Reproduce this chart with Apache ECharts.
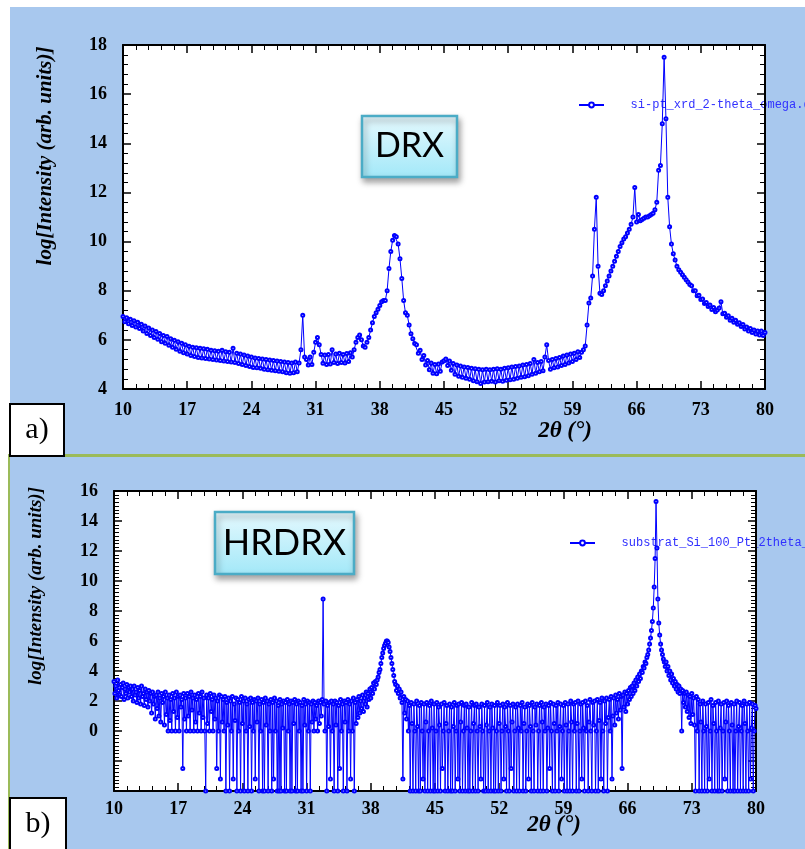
<!DOCTYPE html>
<html>
<head>
<meta charset="utf-8">
<title>DRX / HRDRX</title>
<script src="https://cdn.jsdelivr.net/npm/echarts@6.0.0/dist/echarts.min.js"></script>
<style>
  html, body { margin: 0; padding: 0; background: #fff; }
  #wrap { position: relative; width: 805px; height: 849px; overflow: hidden; }
  .panel { position: absolute; background: #a8c8ee; }
  .green { position: absolute; background: #9bbb59; }
  #chart { position: absolute; left: 0; top: 0; width: 805px; height: 849px; }
</style>
</head>
<body>
<div id="wrap">
  <div class="panel" style="left:10px;top:7px;width:795px;height:447px"></div>
  <div class="panel" style="left:10px;top:457px;width:795px;height:392px"></div>
  <div class="green" style="left:8px;top:454px;width:797px;height:3px"></div>
  <div class="green" style="left:8px;top:454px;width:2px;height:395px"></div>
  <div id="chart"></div>
</div>
<script>
// 2theta axis (degrees)
const angleMin = 10
const angleMax = 80
const angleTick = 7

// scan grids
const drxStart = 10, drxStep = 0.2
const hrdrxStart = 10, hrdrxStep = 0.1

const nameDrx = 'si-pt_xrd_2-theta_omega.dat'
const nameHrdrx = 'substrat_Si_100_Pt_2theta_omega.dat'

// a) DRX, log intensity, one value per 0.2 deg from 10 to 80
const drxIntensity = [
  6.95, 6.74, 6.9, 6.66, 6.84, 6.58, 6.78, 6.52, 6.72, 6.46,
  6.64, 6.36, 6.56, 6.26, 6.48, 6.18, 6.4, 6.1, 6.34, 6.02,
  6.26, 5.92, 6.18, 5.86, 6.14, 5.78, 6.04, 5.7, 5.98, 5.62,
  5.92, 5.54, 5.86, 5.48, 5.8, 5.42, 5.74, 5.36, 5.7, 5.32,
  5.68, 5.28, 5.66, 5.26, 5.64, 5.24, 5.62, 5.22, 5.58, 5.2,
  5.56, 5.18, 5.54, 5.16, 5.58, 5.14, 5.52, 5.12, 5.5, 5.1,
  5.66, 5.08, 5.46, 5.04, 5.42, 5.0, 5.38, 4.96, 5.34, 4.92,
  5.3, 4.88, 5.26, 4.86, 5.24, 4.84, 5.22, 4.8, 5.2, 4.78,
  5.18, 4.76, 5.16, 4.74, 5.14, 4.72, 5.12, 4.7, 5.1, 4.66,
  5.08, 4.64, 5.06, 4.66, 5.1, 4.7, 5.06, 5.6, 7.0, 5.3,
  5.2, 4.98, 5.3, 5.0, 5.5, 5.9, 6.1, 5.8, 5.4, 5.05,
  5.38, 5.0, 5.4, 5.02, 5.6, 5.08, 5.42, 5.04, 5.46, 5.08,
  5.4, 5.06, 5.44, 5.12, 5.48, 5.3, 5.6, 5.9, 6.1, 6.2,
  6.0, 5.75, 5.7, 5.9, 6.1, 6.4, 6.7, 6.95, 7.1, 7.25,
  7.4, 7.55, 7.6, 7.6, 8.0, 8.9, 9.6, 10.05, 10.25, 10.2,
  9.9, 9.3, 8.5, 7.6, 7.1, 7.0, 6.6, 6.25, 6.05, 5.85,
  5.8, 5.46, 5.58, 5.2, 5.36, 4.98, 5.16, 4.78, 5.06, 4.64,
  5.0, 4.62, 5.02, 4.72, 5.1, 5.15, 5.22, 4.96, 5.14, 4.76,
  5.04, 4.6, 4.98, 4.52, 4.94, 4.48, 4.9, 4.44, 4.88, 4.4,
  4.84, 4.34, 4.82, 4.3, 4.8, 4.22, 4.78, 4.28, 4.8, 4.3,
  4.78, 4.32, 4.8, 4.28, 4.82, 4.34, 4.8, 4.32, 4.84, 4.36,
  4.86, 4.38, 4.9, 4.4, 4.92, 4.44, 4.94, 4.48, 4.98, 4.5,
  5.0, 4.54, 5.04, 4.6, 5.2, 4.64, 5.08, 4.7, 5.12, 4.74,
  5.3, 5.8, 5.16, 4.8, 5.2, 4.86, 5.24, 4.9, 5.28, 4.96,
  5.34, 5.0, 5.38, 5.06, 5.42, 5.12, 5.46, 5.2, 5.52, 5.28,
  5.5, 5.6, 5.75, 6.6, 7.5, 7.7, 8.6, 10.5, 11.8, 9.0,
  7.9, 7.85, 8.0, 8.2, 8.4, 8.6, 8.8, 9.0, 9.2, 9.4,
  9.6, 9.8, 9.95, 10.1, 10.2, 10.35, 10.5, 10.7, 11.0, 12.2,
  10.8, 11.1, 10.85, 10.9, 10.95, 11.0, 11.0, 11.05, 11.1, 11.15,
  11.3, 11.6, 12.9, 13.1, 14.8, 17.5, 15.0, 11.8, 10.6, 9.9,
  9.5, 9.25, 9.0, 8.85, 8.75, 8.65, 8.55, 8.45, 8.35, 8.25,
  8.2, 8.0, 8.0, 7.8, 7.82, 7.64, 7.66, 7.48, 7.52, 7.36,
  7.42, 7.24, 7.32, 7.14, 7.22, 7.3, 7.55, 7.06, 7.08, 6.92,
  6.98, 6.8, 6.88, 6.72, 6.8, 6.64, 6.7, 6.54, 6.62, 6.44,
  6.52, 6.36, 6.46, 6.3, 6.4, 6.24, 6.36, 6.2, 6.36, 6.18,
  6.3
]

// b) HRDRX, log intensity, one value per 0.1 deg from 10 to 80
const hrdrxIntensity = [
  3.3, 2.5, 3.0, 2.2, 3.4, 2.7, 2.4, 3.1, 2.3, 2.9, 3.2, 2.1, 2.8, 2.5, 3.1, 2.2, 2.9, 2.6, 3.0, 2.3,
  2.8, 2.0, 3.0, 2.4, 2.6, 1.9, 2.9, 2.2, 2.7, 1.8, 3.0, 2.3, 2.5, 1.7, 2.8, 2.1, 2.6, 1.6, 2.7, 2.0,
  2.5, 1.2, 2.6, 1.8, 2.3, 0.8, 2.4, 1.5, 2.6, 1.0, 2.2, 0.6, 2.5, 1.9, 2.3, 0.4, 2.6, 1.1, 2.2, 0,
  2.4, 0.7, 2.1, 0, 2.5, 1.3, 2.2, 0, 2.6, 0.9, 2.3, 0, 2.4, 1.6, 2.1, -2.5, 2.5, 0.8, 2.2, 0,
  2.5, 1.0, 2.3, 0, 2.6, 1.4, 2.2, 0, 2.4, 0.6, 2.1, 0, 2.5, 1.2, 2.3, 0, 2.6, 0.9, 2.2, 0,
  -4, 2.4, 0.5, 2.2, 0, 2.5, 1.3, 2.1, 0, 2.4, 0.8, 2.2, -2.5, 2.0, 0, 2.4, -3.2, 2.3, 0.6, 2.1,
  0, 2.3, -4, 1.9, 0.4, 2.2, -4, 2.0, 0, 2.3, -3.2, 1.8, 0.7, 2.2, -4, 2.1, 0, 1.9, -4, 2.3,
  0.5, 2.0, -4, 2.2, 0, 1.8, -4, 2.1, 0.3, 2.2, -4, 1.9, 0, 2.1, -3.2, 2.0, 0.6, 2.2, -4, 1.8,
  0, 2.1, -4, 1.9, -4, 2.2, 0.4, 2.0, -4, 1.8, 0, 2.1, -4, 1.9, -3.2, 2.2, 0, 2.0, -4, 1.7,
  -4, 2.1, -4, 1.8, 0.2, 2.0, -4, 1.9, -4, 2.1, 0, 1.8, -4, 2.0, -4, 1.9, 0.5, 2.1, -4, 1.8,
  -4, 2.0, 0, 1.9, -4, 1.7, -4, 2.1, 0.4, 1.8, -4, 2.0, 0, 1.9, -4, 1.8, 0.6, 2.0, 0, 1.9,
  0.8, 1.7, 0, 2.0, 0.5, 1.9, 1.0, 2.1, 8.8, 1.8, 0, 2.0, -4, 1.7, 0.3, 1.9, -3.2, 2.0, 0, 1.8,
  -4, 2.0, 0.4, 1.9, -4, 1.7, -2.5, 2.1, 0, 1.8, -4, 2.0, 0.6, 1.9, -4, 2.1, 0, 1.8, -3.2, 2.0,
  0, 2.2, -4, 1.9, 0.5, 2.1, 0.9, 2.3, 1.2, 2.0, 1.5, 2.4, 1.3, 2.2, 1.8, 2.6, 1.6, 2.5, 2.1, 2.8,
  2.2, 2.9, 2.5, 3.2, 2.8, 3.3, 3.1, 3.4, 3.6, 3.9, 4.1, 4.5, 4.9, 5.2, 5.5, 5.7, 5.85, 6.0, 6.0, 5.9,
  5.6, 5.3, 4.9, 4.5, 4.1, 3.7, 3.3, 3.1, 2.7, 3.0, 2.5, 2.8, 2.2, 2.6, 1.9, -3.2, 2.3, 1.2, 2.1, 0.8,
  2.0, 0, 1.7, -4, 1.9, 0.5, -4, 1.8, 0, -4, 2.0, 0.3, -4, 1.7, -4, 1.9, 0, -3.2, 1.8, -4,
  0.6, 1.9, -4, 0, 1.7, -4, 2.0, 0.2, -4, 1.8, -4, 0, 1.9, -4, 1.6, 0.4, -4, 1.8, -2.5, 0,
  1.9, -4, 0.5, 1.7, -4, 0, 1.8, -4, 1.6, -4, 0.3, 1.9, -4, 0, 1.7, -3.2, 1.8, -4, 0.6, 1.9,
  -4, 0, 1.7, -4, 1.8, 0.2, -4, 1.6, -4, 0, 1.9, -4, 0.5, 1.7, -4, 1.8, 0, -4, 1.6, 0.3,
  -3.2, 1.8, 0, -4, 1.7, -4, 0.4, 1.9, -4, 0, 1.6, -4, 1.8, 0.2, -4, 1.7, -4, 0, 1.9, -4,
  0.5, 1.7, -4, 0, 1.8, -3.2, 1.6, 0.3, -4, 1.9, 0, -4, 1.7, -2.5, 0.6, 1.8, -4, 0, 1.6, -4,
  1.8, 0.2, -4, 1.7, 0, 1.9, -4, 0.5, 1.6, -4, 0, 1.8, -3.2, 1.7, 0.3, -4, 1.9, 0, -4, 1.6,
  0.4, 1.8, -4, 0, 1.7, -4, 1.9, 0.6, -4, 1.6, 0, 1.8, -4, 0.2, 1.7, -2.5, 1.9, 0, -4, 1.8,
  0.5, -4, 1.7, 0, 1.9, -4, 0.3, 1.8, -3.2, 0, 1.7, -4, 1.9, 0.4, -4, 1.8, 0, -4, 2.0, 0.6,
  -4, 1.8, 0, 1.9, -4, 0.5, 2.0, -4, 0, 1.8, -3.2, 1.9, 0.2, -4, 2.0, 0, 1.7, -4, 0.6, 2.1,
  0, -4, 1.9, 0.4, 2.0, -4, 0, 2.1, -4, 0.7, 1.9, -3.2, 2.2, 0, -4, 2.0, 0.5, 2.2, -4, 0.9,
  2.1, 0, 2.3, -3.2, 1.0, 2.2, 0.4, 2.4, 1.2, 2.1, 0.8, 2.5, 1.4, 2.3, -2.5, 2.4, 1.6, 2.6, 1.3, 2.5,
  1.8, 2.7, 2.1, 2.9, 2.3, 3.0, 2.5, 3.2, 2.7, 3.4, 3.0, 3.6, 3.3, 3.8, 3.5, 4.0, 3.9, 4.3, 4.2, 4.6,
  4.5, 4.9, 5.1, 5.4, 5.8, 6.2, 6.7, 7.3, 8.2, 9.6, 11.5, 15.3, 12.2, 8.8, 7.2, 6.4, 5.8, 5.4, 5.1, 4.8,
  4.6, 4.3, 4.6, 4.0, 4.3, 3.7, 4.0, 3.4, 3.8, 3.2, 3.5, 3.0, 3.3, 2.8, 3.1, 2.6, 3.0, 2.5, 2.8, 0,
  2.7, 1.9, 2.5, 1.6, 2.6, 1.3, 2.4, 0.9, 2.3, 0.5, 2.5, 1.1, 2.2, 0.4, -4, 2.3, 0, 2.1, -4, 1.8,
  0.6, -4, 2.0, 0, -4, 1.8, 0.3, -4, 1.9, -3.2, 0, 2.1, -4, 1.7, 0.5, -4, 1.9, 0, -4, 2.0,
  -4, 0.2, 1.8, -4, 0, 1.9, -3.2, 0.6, 2.0, -4, 1.7, 0, -4, 1.9, 0.4, -4, 1.8, -4, 0, 2.0,
  -4, 0.3, 1.9, -4, 0, 1.7, -4, 2.0, 0.5, -4, 1.8, 0, -4, 1.9, -3.2, 0.2, 1.8, -4, 0, 1.7,
  1.5
]

const toPoints = (ys, start, step) => ys.map((v, i) => [+(start + i * step).toFixed(2), v])

const serif = '"Liberation Serif", "Times New Roman", serif'
const traceColor = '#0000ff'

const xAxisFor = (gridIndex, position, margin) => ({
  type: 'value', gridIndex, position, z: 1,
  min: angleMin, max: angleMax, interval: angleTick,
  axisLine: { show: true, onZero: false, lineStyle: { color: '#000', width: 2 } },
  axisTick: { show: true, inside: true, length: 8, lineStyle: { color: '#000', width: 1.5 } },
  minorTick: { show: true, splitNumber: 5, length: 5, lineStyle: { color: '#000', width: 1 } },
  splitLine: { show: false },
  axisLabel: {
    show: position === 'bottom', margin,
    fontFamily: serif, fontWeight: 'bold', fontSize: 18, color: '#000'
  }
})

const yAxisFor = (gridIndex, position, min, max, minorSplit) => ({
  type: 'value', gridIndex, position, z: 1,
  min, max, interval: 2,
  axisLine: { show: true, onZero: false, lineStyle: { color: '#000', width: 2 } },
  axisTick: { show: true, inside: true, length: 8, lineStyle: { color: '#000', width: 1.5 } },
  minorTick: { show: true, splitNumber: minorSplit, length: 5, lineStyle: { color: '#000', width: 1 } },
  splitLine: { show: false },
  axisLabel: {
    show: position === 'left', margin: 16,
    fontFamily: serif, fontWeight: 'bold', fontSize: 18, color: '#000',
    formatter: v => (v < 0 ? '' : String(v))
  }
})

const labelBox = (x, y, w, h, text, size) => ({
  type: 'group', z: 100,
  children: [
    {
      type: 'rect', shape: { x, y, width: w, height: h },
      style: {
        fill: {
          type: 'linear', x: 0, y: 0, x2: 0, y2: 1,
          colorStops: [{ offset: 0, color: '#e6f9fe' }, { offset: 1, color: '#a2e8f8' }]
        },
        stroke: '#4bacc6', lineWidth: 2.5,
        shadowBlur: 6, shadowOffsetX: 2, shadowOffsetY: 4, shadowColor: 'rgba(0,0,0,0.35)'
      }
    },
    {
      type: 'text', x: x + w / 2, y: y + h / 2,
      style: {
        text, fontFamily: 'Lato, "Open Sans", sans-serif', fontSize: size, fill: '#000',
        align: 'center', verticalAlign: 'middle', textAlign: 'center', textVerticalAlign: 'middle'
      }
    }
  ]
})

const tagBox = (x, y, w, h, text) => ({
  type: 'group', z: 100,
  children: [
    { type: 'rect', shape: { x, y, width: w, height: h }, style: { fill: '#fff', stroke: '#000', lineWidth: 2 } },
    {
      type: 'text', x: x + w / 2, y: y + 26,
      style: {
        text, fontFamily: serif, fontSize: 30, fill: '#000',
        align: 'center', verticalAlign: 'middle', textAlign: 'center', textVerticalAlign: 'middle'
      }
    }
  ]
})

const axisTitle = (x, y, text, rotation, size) => ({
  type: 'text', x, y, rotation, z: 100,
  style: {
    text, fontFamily: serif, fontWeight: 'bold', fontStyle: 'italic', fontSize: size, fill: '#000',
    align: 'center', verticalAlign: 'middle', textAlign: 'center', textVerticalAlign: 'middle'
  }
})

const legendFor = (name, left, top) => ({
  data: [name], left, top, padding: 0, z: 1,
  itemWidth: 25, itemHeight: 6,
  formatter: n => '   ' + n,
  textStyle: { fontFamily: '"Liberation Mono", "DejaVu Sans Mono", monospace', fontSize: 12, color: '#3030ff' }
})

const traceSeries = (name, idx, points) => ({
  type: 'line', name, xAxisIndex: idx * 2, yAxisIndex: idx * 2,
  data: points,
  symbol: 'emptyCircle', symbolSize: 3, showAllSymbol: true,
  lineStyle: { color: traceColor, width: 1 },
  itemStyle: { color: traceColor, borderWidth: 1 },
  emphasis: { disabled: true }
})

const chart = echarts.init(document.getElementById('chart'), null, { renderer: 'canvas' })

chart.setOption({
  animation: false,
  grid: [
    { left: 123, top: 45, width: 642, height: 344, show: true, z: 0, backgroundColor: '#fff', borderWidth: 0 },
    { left: 114, top: 491, width: 642, height: 300, show: true, z: 0, backgroundColor: '#fff', borderWidth: 0 }
  ],
  xAxis: [
    xAxisFor(0, 'bottom', 12), xAxisFor(0, 'top', 12),
    xAxisFor(1, 'bottom', 9), xAxisFor(1, 'top', 9)
  ],
  yAxis: [
    yAxisFor(0, 'left', 4, 18, 5), yAxisFor(0, 'right', 4, 18, 5),
    yAxisFor(1, 'left', -4, 16, 8), yAxisFor(1, 'right', -4, 16, 8)
  ],
  legend: [legendFor(nameDrx, 578, 99), legendFor(nameHrdrx, 569, 537)],
  series: [
    traceSeries(nameDrx, 0, toPoints(drxIntensity, drxStart, drxStep)),
    traceSeries(nameHrdrx, 1, toPoints(hrdrxIntensity, hrdrxStart, hrdrxStep))
  ],
  graphic: [
    labelBox(362, 116, 95, 61, 'DRX', 34),
    labelBox(215, 512, 139, 62, 'HRDRX', 36),
    tagBox(10, 404, 54, 52, 'a)'),
    tagBox(10, 798, 56, 60, 'b)'),
    axisTitle(46, 156, 'log[Intensity (arb. units)]', Math.PI / 2, 21),
    axisTitle(36, 586, 'log[Intensity (arb. units)]', Math.PI / 2, 19),
    axisTitle(565, 431, '2θ (°)', 0, 23),
    axisTitle(554, 825, '2θ (°)', 0, 23)
  ]
})
</script>
</body>
</html>
